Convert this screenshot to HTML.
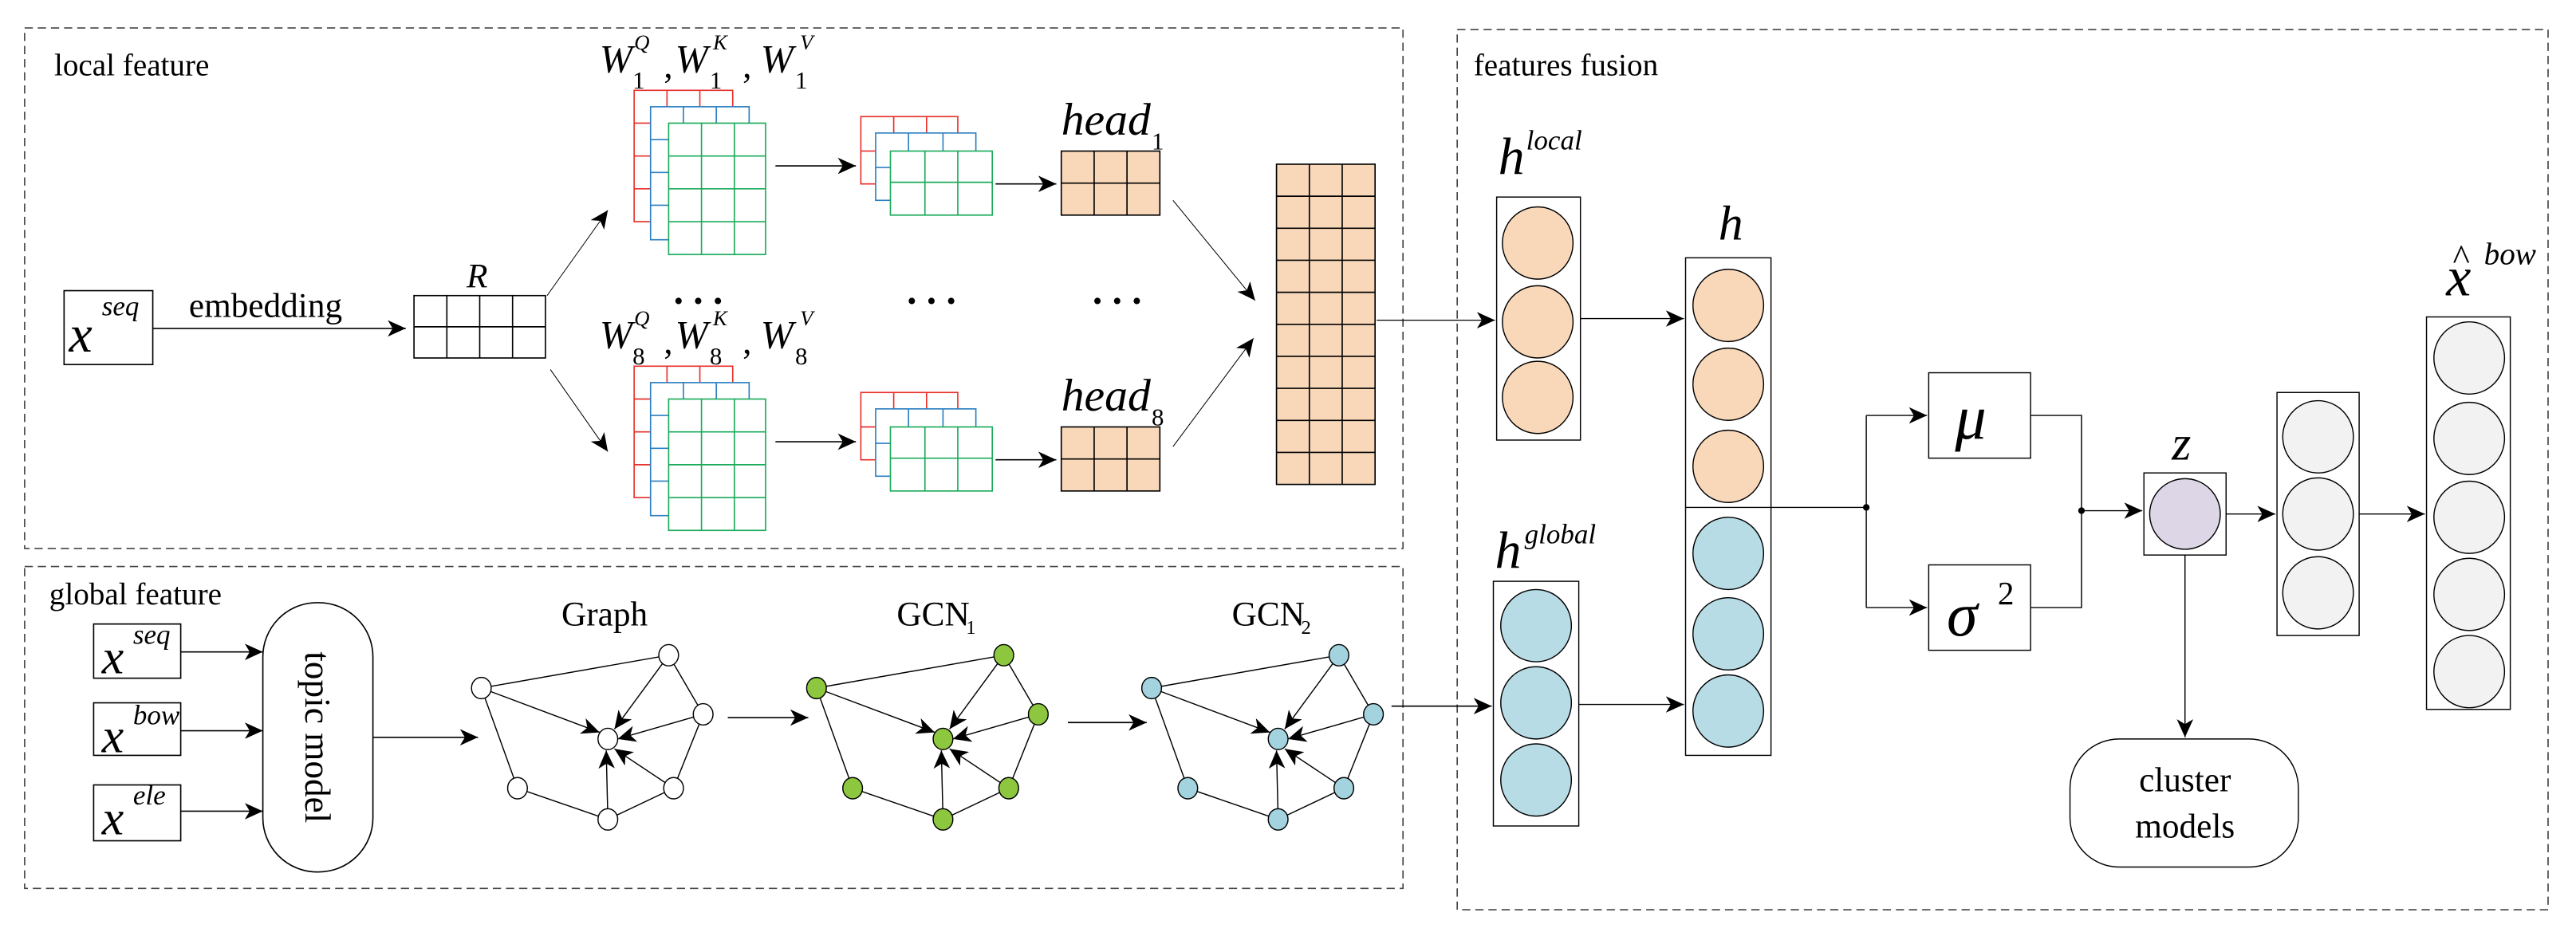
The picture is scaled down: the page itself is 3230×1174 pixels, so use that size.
<!DOCTYPE html>
<html><head><meta charset="utf-8"><style>
html,body{margin:0;padding:0;background:#fff;}
svg{display:block;}
svg, svg text{font-family:"Liberation Serif","Times New Roman",serif;}
.i{font-style:italic;}
</style></head><body>
<svg width="3230" height="1174" viewBox="0 0 1568 570" preserveAspectRatio="none" xmlns="http://www.w3.org/2000/svg" font-family="Liberation Serif, serif">
<defs>
<marker id="ah" markerUnits="userSpaceOnUse" markerWidth="12" markerHeight="10" refX="11" refY="5" orient="auto"><path d="M0,0 L11,5 L0,10 L3,5 Z" fill="#000"/></marker>
<g id="ge" stroke="#000" stroke-width="0.7" fill="none">
<line x1="293" y1="419" x2="407" y2="399"/>
<line x1="407" y1="399" x2="428" y2="435"/>
<line x1="293" y1="419" x2="315" y2="480"/>
<line x1="428" y1="435" x2="410" y2="480"/>
<line x1="315" y1="480" x2="370" y2="499"/>
<line x1="410" y1="480" x2="370" y2="499"/>
<line x1="407" y1="399" x2="374" y2="444" marker-end="url(#ah)"/>
<line x1="293" y1="419" x2="365" y2="446" marker-end="url(#ah)"/>
<line x1="428" y1="435" x2="376" y2="450" marker-end="url(#ah)"/>
<line x1="370" y1="499" x2="369" y2="457" marker-end="url(#ah)"/>
<line x1="410" y1="480" x2="374" y2="456" marker-end="url(#ah)"/>
</g>
<g id="gn" stroke="#000" stroke-width="0.7">
<ellipse cx="407" cy="399" rx="6" ry="6.5"/><ellipse cx="293" cy="419" rx="6" ry="6.5"/><ellipse cx="428" cy="435" rx="6" ry="6.5"/>
<ellipse cx="370" cy="450" rx="6" ry="6.5"/><ellipse cx="315" cy="480" rx="6" ry="6.5"/><ellipse cx="410" cy="480" rx="6" ry="6.5"/><ellipse cx="370" cy="499" rx="6" ry="6.5"/>
</g>
<g id="wst" stroke-width="0.8" fill="#fff">
<rect x="386" y="55" width="60" height="80" stroke="#e8302c"/>
<path d="M406,55V135M426,55V135M386,75H446M386,95H446M386,115H446" stroke="#e8302c" fill="none"/>
<rect x="396" y="65" width="60" height="81" stroke="#2b7fc2"/>
<path d="M416,65V146M436,65V146M396,85H456M396,105H456M396,125H456" stroke="#2b7fc2" fill="none"/>
<rect x="407" y="75" width="59" height="80" stroke="#1aab5a"/>
<path d="M427,75V155M447,75V155M407,95H466M407,115H466M407,135H466" stroke="#1aab5a" fill="none"/>
<rect x="524" y="71" width="59" height="41" stroke="#e8302c"/>
<path d="M544,71V112M564,71V112M524,92H583" stroke="#e8302c" fill="none"/>
<rect x="533" y="81" width="61" height="41" stroke="#2b7fc2"/>
<path d="M553,81V122M574,81V122M533,102H594" stroke="#2b7fc2" fill="none"/>
<rect x="542" y="92" width="62" height="39" stroke="#1aab5a"/>
<path d="M563,92V131M583,92V131M542,111H604" stroke="#1aab5a" fill="none"/>
<rect x="646" y="92" width="60" height="39" stroke="#000" fill="#f9d8ba"/>
<path d="M666,92V131M686,92V131M646,111.5H706" stroke="#000" fill="none"/>
<line x1="472" y1="101" x2="521" y2="101" stroke="#000" marker-end="url(#ah)"/>
<line x1="606" y1="112" x2="643" y2="112" stroke="#000" marker-end="url(#ah)"/>
</g>
</defs>

<g fill="none" stroke="#444" stroke-width="0.8" stroke-dasharray="5,3">
<rect x="15" y="17" width="839" height="317"/>
<rect x="15" y="345" width="839" height="196"/>
<rect x="887" y="18" width="664" height="536"/>
</g>
<text x="33" y="46" font-size="19">local feature</text>
<text x="30" y="368" font-size="19">global feature</text>
<text x="897" y="46" font-size="19">features fusion</text>

<rect x="39" y="177" width="54" height="45" fill="none" stroke="#000" stroke-width="0.8"/>
<text x="42" y="214" font-size="32" class="i">x</text>
<text x="62" y="192" font-size="17" class="i">seq</text>
<text x="115" y="193" font-size="21">embedding</text>
<line x1="93" y1="200" x2="247" y2="200" stroke="#000" stroke-width="0.8" marker-end="url(#ah)"/>
<text x="284" y="175" font-size="21" class="i">R</text>
<rect x="252" y="180" width="80" height="38" fill="none" stroke="#000" stroke-width="0.8"/>
<path d="M272,180V218M292,180V218M312,180V218M252,199H332" stroke="#000" stroke-width="0.8" fill="none"/>
<line x1="333" y1="180" x2="370" y2="128" stroke="#000" stroke-width="0.5" marker-end="url(#ah)"/>
<line x1="335" y1="225" x2="370" y2="275" stroke="#000" stroke-width="0.5" marker-end="url(#ah)"/>

<use href="#wst"/>
<use href="#wst" transform="translate(0,168)"/>

<g font-size="24" class="i">
<text x="365" y="44">W</text><text x="411" y="44">W</text><text x="463" y="44">W</text>
<text x="365" y="212">W</text><text x="411" y="212">W</text><text x="463" y="212">W</text>
</g>
<g font-size="15">
<text x="385" y="54">1</text><text x="432" y="54">1</text><text x="484" y="54">1</text>
<text x="385" y="222">8</text><text x="432" y="222">8</text><text x="484" y="222">8</text>
<text x="404" y="47" font-size="22">,</text><text x="452" y="47" font-size="22">,</text>
<text x="404" y="215" font-size="22">,</text><text x="452" y="215" font-size="22">,</text>
</g>
<g font-size="13" class="i">
<text x="386" y="30">Q</text><text x="434" y="30">K</text><text x="487" y="30">V</text>
<text x="386" y="198">Q</text><text x="434" y="198">K</text><text x="487" y="198">V</text>
</g>
<text x="646" y="82" font-size="28" class="i">head</text><text x="701" y="91" font-size="15">1</text>
<text x="646" y="250" font-size="28" class="i">head</text><text x="701" y="259" font-size="15">8</text>
<g font-size="24" font-weight="bold"><text x="410" y="185">. . .</text><text x="552" y="185">. . .</text><text x="665" y="185">. . .</text></g>

<rect x="777" y="100" width="60" height="195" fill="#f9d8ba" stroke="#000" stroke-width="0.8"/>
<path d="M797,100V295M817,100V295M777,119.5H837M777,139H837M777,158.5H837M777,178H837M777,197.5H837M777,217H837M777,236.5H837M777,256H837M777,275.5H837" stroke="#000" stroke-width="0.8" fill="none"/>
<line x1="714" y1="122" x2="764" y2="183" stroke="#000" stroke-width="0.5" marker-end="url(#ah)"/>
<line x1="714" y1="272" x2="763" y2="206" stroke="#000" stroke-width="0.5" marker-end="url(#ah)"/>
<line x1="838" y1="195" x2="910" y2="195" stroke="#000" stroke-width="0.6" marker-end="url(#ah)"/>

<g fill="none" stroke="#000" stroke-width="0.8">
<rect x="57" y="380" width="53" height="33"/><rect x="57" y="428" width="53" height="32"/><rect x="57" y="478" width="53" height="34"/>
<rect x="160" y="367" width="67" height="164" rx="33" ry="33"/>
</g>
<g class="i"><text x="62" y="410" font-size="30">x</text><text x="81" y="392" font-size="17">seq</text>
<text x="62" y="458" font-size="30">x</text><text x="81" y="441" font-size="17">bow</text>
<text x="62" y="508" font-size="30">x</text><text x="81" y="490" font-size="17">ele</text></g>
<g stroke="#000" stroke-width="0.8" marker-end="url(#ah)">
<line x1="110" y1="397" x2="160" y2="397"/><line x1="110" y1="445" x2="160" y2="445"/><line x1="110" y1="494" x2="160" y2="494"/>
<line x1="227" y1="449" x2="291" y2="449"/>
<line x1="443" y1="437" x2="492" y2="437"/>
<line x1="650" y1="440" x2="698" y2="440"/>
<line x1="847" y1="430" x2="908" y2="430"/>
</g>
<text transform="translate(186,449) rotate(90)" text-anchor="middle" font-size="22">topic model</text>
<text x="368" y="381" text-anchor="middle" font-size="21">Graph</text>
<text x="568" y="381" text-anchor="middle" font-size="21">GCN</text><text x="588" y="386" font-size="12">1</text>
<text x="772" y="381" text-anchor="middle" font-size="21">GCN</text><text x="792" y="386" font-size="12">2</text>
<use href="#ge"/><use href="#gn" fill="#fff"/>
<use href="#ge" transform="translate(204,0)"/><use href="#gn" fill="#8dc63f" transform="translate(204,0)"/>
<use href="#ge" transform="translate(408,0)"/><use href="#gn" fill="#a3d3de" transform="translate(408,0)"/>

<g stroke="#000" stroke-width="0.7">
<rect x="911" y="120" width="51" height="148" fill="none"/>
<ellipse cx="936" cy="148" rx="21.5" ry="22" fill="#f9d8ba"/><ellipse cx="936" cy="196" rx="21.5" ry="22" fill="#f9d8ba"/><ellipse cx="936" cy="242" rx="21.5" ry="22" fill="#f9d8ba"/>
<rect x="909" y="354" width="52" height="149" fill="none"/>
<ellipse cx="935" cy="381" rx="21.5" ry="22" fill="#b7dce6"/><ellipse cx="935" cy="428" rx="21.5" ry="22" fill="#b7dce6"/><ellipse cx="935" cy="475" rx="21.5" ry="22" fill="#b7dce6"/>
<rect x="1026" y="157" width="52" height="303" fill="none"/>
<line x1="1026" y1="309" x2="1078" y2="309"/>
<ellipse cx="1052" cy="186" rx="21.5" ry="22" fill="#f9d8ba"/><ellipse cx="1052" cy="234" rx="21.5" ry="22" fill="#f9d8ba"/><ellipse cx="1052" cy="284" rx="21.5" ry="22" fill="#f9d8ba"/>
<ellipse cx="1052" cy="337" rx="21.5" ry="22" fill="#b7dce6"/><ellipse cx="1052" cy="386" rx="21.5" ry="22" fill="#b7dce6"/><ellipse cx="1052" cy="433" rx="21.5" ry="22" fill="#b7dce6"/>
<rect x="1174" y="227" width="62" height="52" fill="none"/>
<rect x="1174" y="344" width="62" height="52" fill="none"/>
<rect x="1305" y="288" width="50" height="50" fill="none"/>
<ellipse cx="1330" cy="313" rx="21.5" ry="21.5" fill="#ddd6e6"/>
<rect x="1386" y="239" width="50" height="148" fill="none"/>
<ellipse cx="1411" cy="266" rx="21.5" ry="22" fill="#f2f2f2"/><ellipse cx="1411" cy="313" rx="21.5" ry="22" fill="#f2f2f2"/><ellipse cx="1411" cy="361" rx="21.5" ry="22" fill="#f2f2f2"/>
<rect x="1477" y="193" width="51" height="239" fill="none"/>
<ellipse cx="1503" cy="218" rx="21.5" ry="22" fill="#f2f2f2"/><ellipse cx="1503" cy="267" rx="21.5" ry="22" fill="#f2f2f2"/><ellipse cx="1503" cy="315" rx="21.5" ry="22" fill="#f2f2f2"/><ellipse cx="1503" cy="362" rx="21.5" ry="22" fill="#f2f2f2"/><ellipse cx="1503" cy="409" rx="21.5" ry="22" fill="#f2f2f2"/>
<rect x="1260" y="450" width="139" height="78" rx="30" ry="30" fill="none"/>
</g>
<g stroke="#000" stroke-width="0.7" fill="none">
<line x1="962" y1="194" x2="1025" y2="194" marker-end="url(#ah)"/>
<line x1="961" y1="429" x2="1025" y2="429" marker-end="url(#ah)"/>
<path d="M1078,309H1136"/>
<path d="M1136,253V370"/>
<line x1="1136" y1="253" x2="1173" y2="253" marker-end="url(#ah)"/>
<line x1="1136" y1="370" x2="1173" y2="370" marker-end="url(#ah)"/>
<path d="M1236,253H1267V370H1236"/>
<line x1="1267" y1="311" x2="1304" y2="311" marker-end="url(#ah)"/>
<line x1="1355" y1="313" x2="1385" y2="313" marker-end="url(#ah)"/>
<line x1="1436" y1="313" x2="1476" y2="313" marker-end="url(#ah)"/>
<line x1="1330" y1="338" x2="1330" y2="449" marker-end="url(#ah)"/>
</g>
<circle cx="1136" cy="309" r="2" fill="#000"/><circle cx="1267" cy="311" r="2" fill="#000"/>
<g class="i">
<text x="912" y="106" font-size="32">h</text><text x="929" y="91" font-size="17">local</text>
<text x="1046" y="146" font-size="30">h</text>
<text x="910" y="346" font-size="32">h</text><text x="928" y="331" font-size="17">global</text>
<text x="1190" y="267" font-size="38">μ</text>
<text x="1185" y="387" font-size="38">σ</text>
<text x="1322" y="280" font-size="30">z</text>
<text x="1489" y="180" font-size="34">x</text><text x="1512" y="161" font-size="19">bow</text>
</g>
<text x="1493" y="164" font-size="22">^</text>
<text x="1216" y="368" font-size="20">2</text>
<text x="1330" y="482" text-anchor="middle" font-size="21">cluster</text>
<text x="1330" y="510" text-anchor="middle" font-size="21">models</text>
</svg>
</body></html>
